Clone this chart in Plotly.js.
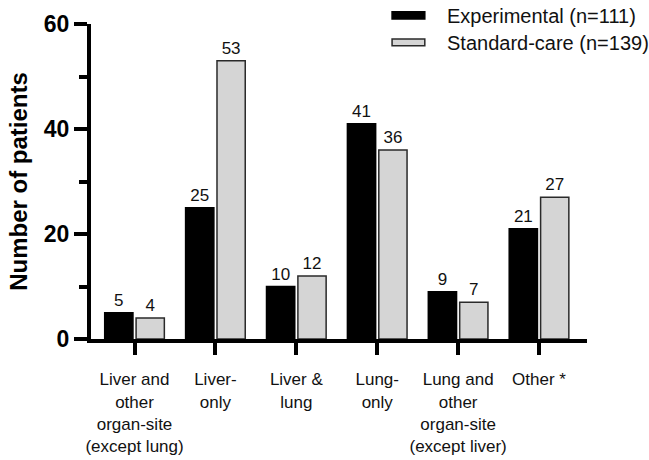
<!DOCTYPE html>
<html>
<head>
<meta charset="utf-8">
<script src="https://cdn.plot.ly/plotly-3.0.1.min.js"></script>
<style>html,body{margin:0;padding:0;background:#fff;}#chart{width:649px;height:460px;}</style>
</head>
<body>
<div id="chart"></div>
<script>
var categories = [
  "Liver and<br>other<br>organ-site<br>(except lung)",
  "Liver-<br>only",
  "Liver &amp;<br>lung",
  "Lung-<br>only",
  "Lung and<br>other<br>organ-site<br>(except liver)",
  "Other *"
];
var experimental = [5, 25, 10, 41, 9, 21];
var standardCare = [4, 53, 12, 36, 7, 27];
var seriesNames = ["Experimental (n=111)", "Standard-care (n=139)"];
var yTickVals = [0, 20, 40, 60];

var FONT = "Liberation Sans, Arial, sans-serif";

var traces = [
  {
    type: "bar", name: seriesNames[0], x: categories, y: experimental,
    text: experimental.map(String), textposition: "outside", cliponaxis: false,
    textfont: {family: FONT, size: 17, color: "#111"},
    marker: {color: "#000000", line: {color: "#000000", width: 1.5}},
    hoverinfo: "none"
  },
  {
    type: "bar", name: seriesNames[1], x: categories, y: standardCare,
    text: standardCare.map(String), textposition: "outside", cliponaxis: false,
    textfont: {family: FONT, size: 17, color: "#111"},
    marker: {color: "#d5d5d5", line: {color: "#2a2a2a", width: 1.5}},
    hoverinfo: "none"
  }
];

var layout = {
  width: 649, height: 460,
  margin: {l: 91, r: 62, t: 24, b: 121, pad: 0},
  paper_bgcolor: "#fff", plot_bgcolor: "#fff",
  showlegend: false,
  barmode: "group", bargap: 0.224, bargroupgap: 0.1,
  font: {family: FONT, color: "#111"},
  xaxis: {
    type: "category",
    range: [-0.538, 5.593],
    showline: true, linewidth: 4, linecolor: "#000",
    ticks: "outside", ticklen: 12, tickwidth: 4, tickcolor: "#000",
    tickfont: {family: FONT, size: 17, color: "#111"},
    ticklabelstandoff: 10,
    showgrid: false, zeroline: false, fixedrange: true
  },
  yaxis: {
    range: [0, 60],
    tickvals: yTickVals,
    showline: true, linewidth: 4, linecolor: "#000",
    ticks: "outside", ticklen: 13, tickwidth: 4, tickcolor: "#000",
    minor: {dtick: 10, ticks: "outside", ticklen: 8, tickwidth: 4, tickcolor: "#000", showgrid: false},
    tickfont: {family: FONT, size: 23, color: "#000", weight: "bold"},
    showgrid: false, zeroline: false, fixedrange: true,
    title: {text: "<b>Number of patients</b>", font: {family: FONT, size: 24, color: "#000"}, standoff: 10}
  },
  shapes: [
    {type: "rect", xref: "paper", yref: "paper", x0: 0.607, x1: 0.673, y0: 1.016, y1: 1.039,
     fillcolor: "#000", line: {color: "#000", width: 1.5}},
    {type: "rect", xref: "paper", yref: "paper", x0: 0.607, x1: 0.673, y0: 0.931, y1: 0.952,
     fillcolor: "#d5d5d5", line: {color: "#2a2a2a", width: 1.5}}
  ],
  annotations: [
    {xref: "paper", yref: "paper", x: 0.714, y: 1.026, xanchor: "left", yanchor: "middle",
     text: seriesNames[0], showarrow: false, font: {family: FONT, size: 20, color: "#111"}},
    {xref: "paper", yref: "paper", x: 0.714, y: 0.940, xanchor: "left", yanchor: "middle",
     text: seriesNames[1], showarrow: false, font: {family: FONT, size: 20, color: "#111"}}
  ]
};

Plotly.newPlot("chart", traces, layout, {staticPlot: true, displayModeBar: false});
</script>
</body>
</html>
